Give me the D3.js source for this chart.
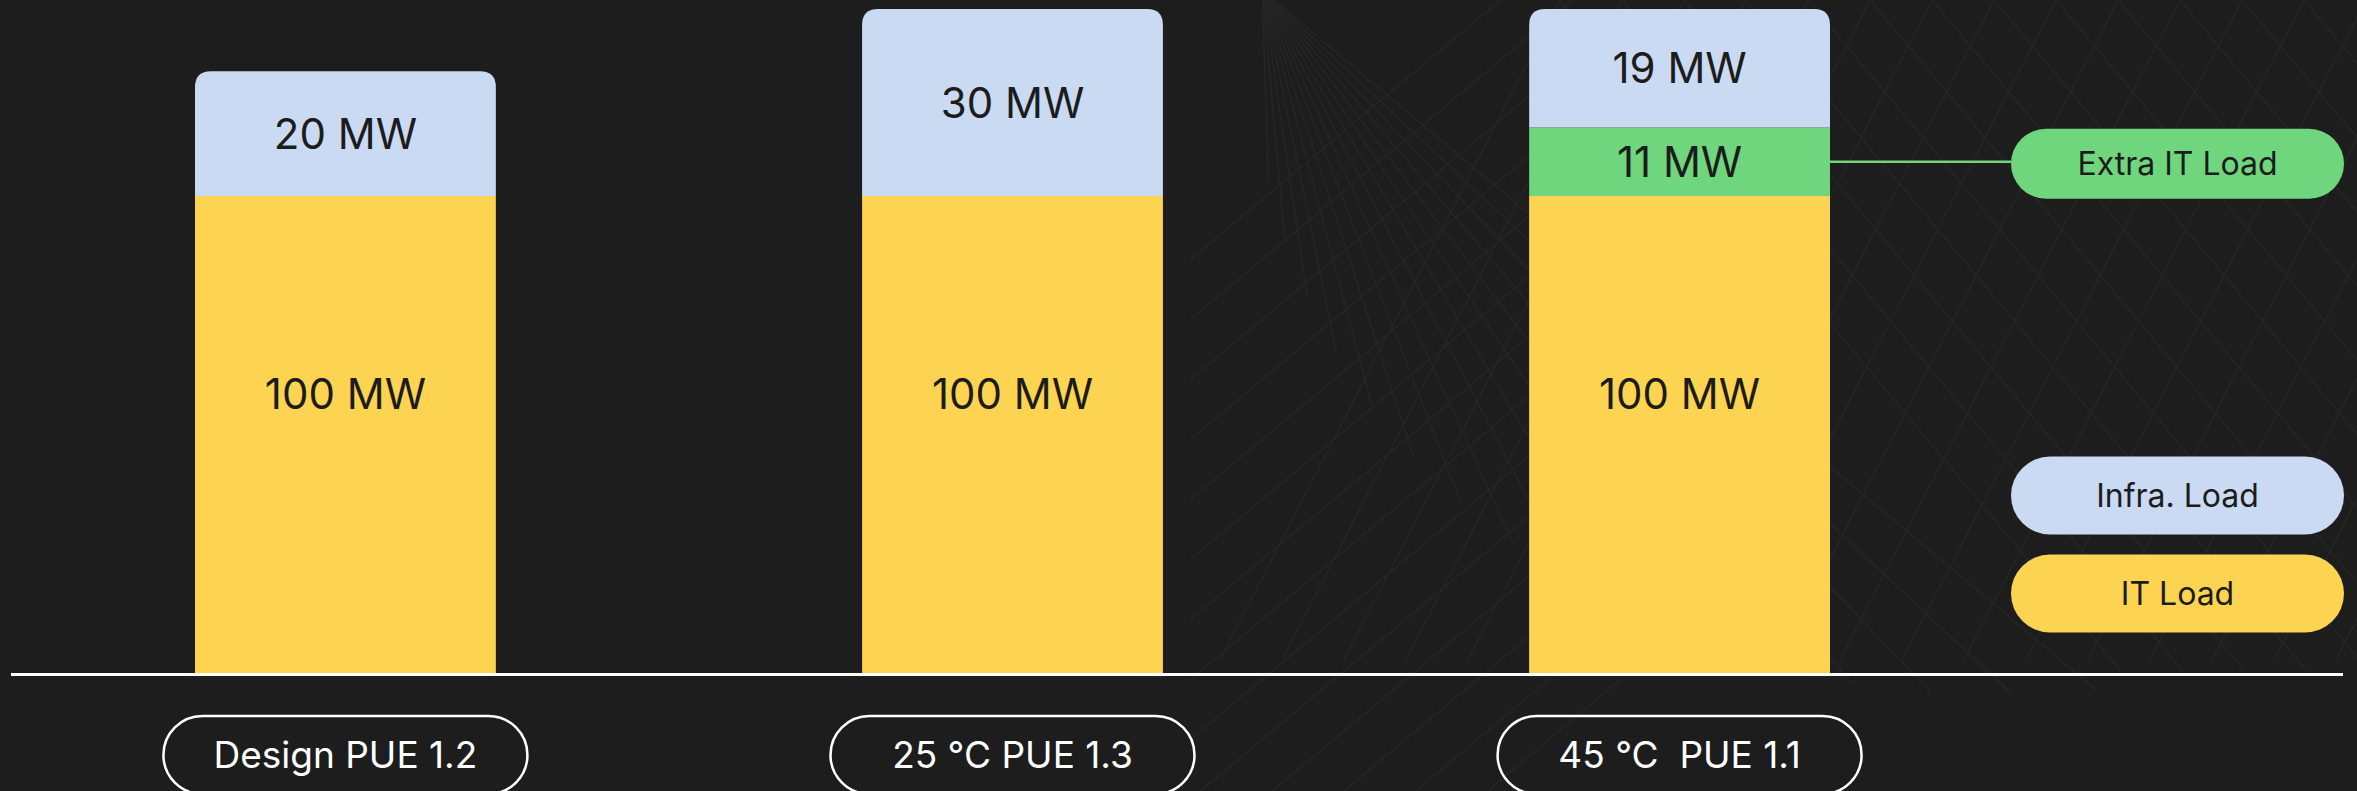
<!DOCTYPE html>
<html>
<head>
<meta charset="utf-8">
<script src="https://cdn.jsdelivr.net/npm/d3@7"></script>
<style>
  html, body { margin: 0; padding: 0; background: #1d1d1d; }
  svg { display: block; font-family: Inter, "Noto Sans", sans-serif; }
</style>
</head>
<body>
<script>
const w = 2357;
const h = 791;

// chart data
const categories = ["Design PUE 1.2", "25 °C PUE 1.3", "45 °C  PUE 1.1"];
const itLoad = [100, 100, 100];
const extraItLoad = [0, 0, 11];
const infraLoad = [20, 30, 19];
const legendLabels = ["Extra IT Load", "Infra. Load", "IT Load"];

const colors = { it: "#fdd451", extra: "#6fd67e", infra: "#c9daf2" };
const bg = "#1d1d1d";
const ink = "#1c1c1c";

const rows = categories.map((c, i) => ({ cat: c, it: itLoad[i], extra: extraItLoad[i], infra: infraLoad[i] }));
const keys = ["it", "extra", "infra"];
const series = d3.stack().keys(keys)(rows);

const xScale = d3.scaleBand()
                 .domain(categories)
                 .range([195, 1830])
                 .paddingInner(0.549)
                 .paddingOuter(0)
                 .align(0);

// the IT block is drawn shorter per MW than the load on top of it
const yScale = d3.scaleLinear()
                 .domain([0, 100, 130])
                 .range([673, 196, 9]);

const svg = d3.select("body")
              .append("svg")
              .attr("width", w)
              .attr("height", h);

svg.append("rect").attr("width", w).attr("height", h).attr("fill", bg);

// faint wireframe decoration in the background
const deco = svg.append("g").attr("stroke", "#262626").attr("stroke-width", 1.5).attr("fill", "none");
const fanX = 1262, fanY = -10;
d3.range(0, 16).forEach(i => {
  const a = (88 - i * 3.2) * Math.PI / 180;
  const len = 190 + i * 60;
  deco.append("line")
      .attr("x1", fanX).attr("y1", fanY)
      .attr("x2", fanX + Math.cos(a) * len).attr("y2", fanY + Math.sin(a) * len);
});
d3.range(0, 14).forEach(i => {
  const y0 = -40 + i * 60;
  deco.append("line")
      .attr("x1", 1190).attr("y1", y0 + 300)
      .attr("x2", 1620).attr("y2", y0 - 60);
});
const hatch = deco.append("g");
d3.range(0, 22).forEach(i => {
  const x0 = 1560 + i * 62;
  hatch.append("line").attr("x1", x0).attr("y1", 0).attr("x2", x0 + 560).attr("y2", 670);
  hatch.append("line").attr("x1", x0).attr("y1", 0).attr("x2", x0 - 340).attr("y2", 660);
});

// bars
const r = 16;
function segPath(x, y0, y1, bw, rounded) {
  if (!rounded) return `M${x},${y1}V${y0}H${x + bw}V${y1}Z`;
  return `M${x},${y1}V${y0 + r}Q${x},${y0} ${x + r},${y0}H${x + bw - r}Q${x + bw},${y0} ${x + bw},${y0 + r}V${y1}Z`;
}

series.forEach(s => {
  svg.append("g")
     .selectAll("path")
     .data(s.filter(d => d[1] > d[0]))
     .enter()
     .append("path")
     .attr("fill", colors[s.key])
     .attr("d", d => segPath(xScale(d.data.cat), yScale(d[1]), yScale(d[0]), xScale.bandwidth(), s.key === "infra"));
});

// value labels
const itLabelAt = 0.585;
series.forEach(s => {
  svg.append("g")
     .selectAll("text")
     .data(s.filter(d => d[1] > d[0]))
     .enter()
     .append("text")
     .attr("x", d => xScale(d.data.cat) + xScale.bandwidth() / 2)
     .attr("y", d => s.key === "it"
        ? yScale(d[0]) + (yScale(d[1]) - yScale(d[0])) * itLabelAt
        : (yScale(d[0]) + yScale(d[1])) / 2)
     .attr("dy", "0.36em")
     .attr("text-anchor", "middle")
     .attr("fill", ink)
     .style("font-size", "42px")
     .text(d => (d[1] - d[0]) + " MW");
});

// baseline
svg.append("line")
   .attr("x1", 11).attr("x2", 2343)
   .attr("y1", yScale(0) + 1.5).attr("y2", yScale(0) + 1.5)
   .attr("stroke", "#ffffff")
   .attr("stroke-width", 3);

// category pills
const pillW = 364, pillH = 78;
const cats = svg.selectAll(".cat")
                .data(categories)
                .enter()
                .append("g")
                .attr("class", "cat")
                .attr("transform", d => `translate(${xScale(d) + xScale.bandwidth() / 2},716)`);
cats.append("rect")
    .attr("x", -pillW / 2).attr("y", 0)
    .attr("width", pillW).attr("height", pillH)
    .attr("rx", pillH / 2)
    .attr("fill", "none")
    .attr("stroke", "#ffffff")
    .attr("stroke-width", 2.5);
cats.append("text")
    .attr("y", pillH / 2)
    .attr("dy", "0.36em")
    .attr("text-anchor", "middle")
    .attr("fill", "#ffffff")
    .style("font-size", "37px")
    .style("white-space", "pre")
    .text(d => d);

// legend
const legX = 2011, legW = 333;
const extraSeg = series[1][2];
const extraY = (yScale(extraSeg[0]) + yScale(extraSeg[1])) / 2;
const legendItems = [
  { label: legendLabels[0], color: colors.extra, cy: extraY + 2, hgt: 70 },
  { label: legendLabels[1], color: colors.infra, cy: 495.5, hgt: 78 },
  { label: legendLabels[2], color: colors.it, cy: 593.5, hgt: 78 }
];

svg.append("line")
   .attr("x1", xScale(categories[2]) + xScale.bandwidth()).attr("x2", legX)
   .attr("y1", extraY).attr("y2", extraY)
   .attr("stroke", colors.extra)
   .attr("stroke-width", 2.5);

const legend = svg.selectAll(".legend")
                  .data(legendItems)
                  .enter()
                  .append("g")
                  .attr("class", "legend");
legend.append("rect")
      .attr("x", legX)
      .attr("y", d => d.cy - d.hgt / 2)
      .attr("width", legW)
      .attr("height", d => d.hgt)
      .attr("rx", d => d.hgt / 2)
      .attr("fill", d => d.color);
legend.append("text")
      .attr("x", legX + legW / 2)
      .attr("y", d => d.cy)
      .attr("dy", "0.36em")
      .attr("text-anchor", "middle")
      .attr("fill", ink)
      .style("font-size", "32px")
      .text(d => d.label);
</script>
</body>
</html>
